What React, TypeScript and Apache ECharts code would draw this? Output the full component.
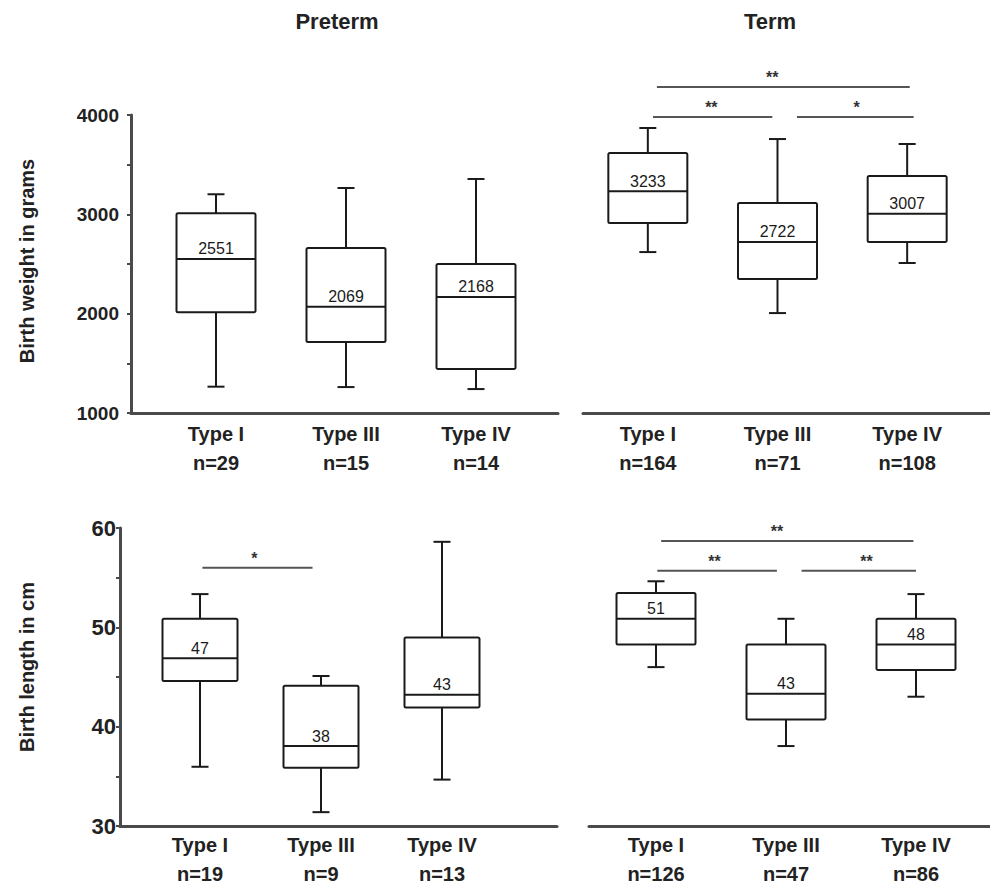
import React, { useEffect, useRef } from "react";
import * as echarts from "echarts";

const FONT = "'Liberation Sans', Arial, sans-serif";

const types = ["Type I", "Type III", "Type IV"];
const weightPretermN = [29, 15, 14];
const weightTermN = [164, 71, 108];
const lengthPretermN = [19, 9, 13];
const lengthTermN = [126, 47, 86];

// [min, q1, median, q3, max]
const weightPreterm = [
  [1265, 2015, 2551, 3010, 3202],
  [1261, 1714, 2069, 2661, 3265],
  [1241, 1442, 2168, 2500, 3356],
];
const weightTerm = [
  [2620, 2912, 3233, 3617, 3869],
  [2006, 2348, 2722, 3114, 3758],
  [2510, 2721, 3007, 3386, 3708],
];
const lengthPreterm = [
  [35.8, 44.5, 46.8, 50.8, 53.3],
  [31.2, 35.7, 37.9, 44.0, 45.0],
  [34.5, 41.8, 43.1, 48.9, 58.6],
];
const lengthTerm = [
  [45.9, 48.2, 50.8, 53.4, 54.6],
  [37.9, 40.6, 43.2, 48.2, 50.8],
  [42.9, 45.6, 48.2, 50.8, 53.3],
];

// significance bars: from/to/at are positions in category units
const sigWeightTerm = [
  { from: 0.07, to: 2.02, y: 4282, at: 0.96, stars: "**" },
  { from: 0.04, to: 0.96, y: 3980, at: 0.49, stars: "**" },
  { from: 1.15, to: 2.05, y: 3980, at: 1.61, stars: "*" },
];
const sigLengthPreterm = [{ from: 0.02, to: 0.93, y: 55.97, at: 0.45, stars: "*" }];
const sigLengthTerm = [
  { from: 0.04, to: 1.98, y: 58.69, at: 0.93, stars: "**" },
  { from: 0.01, to: 0.93, y: 55.67, at: 0.45, stars: "**" },
  { from: 1.12, to: 2.0, y: 55.67, at: 1.62, stars: "**" },
];

const cats = (ns: number[]) => types.map((t, i) => `${t}\nn=${ns[i]}`);

const AXIS_COLOR = "#4a4a4a";
const LINE_COLOR = "#1a1a1a";

function frameX(gridIndex: number) {
  return {
    type: "value",
    gridIndex,
    min: 0,
    max: 1,
    axisLine: { show: true, onZero: false, lineStyle: { color: AXIS_COLOR, width: 3 } },
    axisTick: { show: false },
    axisLabel: { show: false },
    splitLine: { show: false },
  };
}

function dataX(gridIndex: number, ns: number[]) {
  return {
    type: "category",
    gridIndex,
    data: cats(ns),
    axisLine: { show: false },
    axisTick: { show: false },
    axisLabel: {
      margin: 6,
      fontSize: 20,
      fontWeight: "bold",
      lineHeight: 29,
      color: "#222",
      fontFamily: FONT,
      interval: 0,
    },
  };
}

function hiddenY(gridIndex: number, min: number, max: number) {
  return { type: "value", gridIndex, min, max, show: false, splitLine: { show: false } };
}

function frameY(
  gridIndex: number,
  min: number,
  max: number,
  interval: number,
  name: string,
  nameGap: number,
  fontSize: number,
  margin: number,
  namePadding: number[]
) {
  return {
    type: "value",
    gridIndex,
    min,
    max,
    interval,
    axisLine: { show: true, lineStyle: { color: AXIS_COLOR, width: 3 } },
    axisTick: { show: true, length: 4, lineStyle: { color: AXIS_COLOR, width: 2 } },
    minorTick: { show: true, splitNumber: 2, length: 4, lineStyle: { color: AXIS_COLOR, width: 2 } },
    axisLabel: {
      fontSize,
      fontWeight: "bold",
      color: "#222",
      margin,
      fontFamily: FONT,
      formatter: (v: number) => String(v),
    },
    splitLine: { show: false },
    minorSplitLine: { show: false },
    name,
    nameLocation: "middle",
    nameGap,
    nameTextStyle: {
      fontSize: 20,
      fontWeight: "bold",
      color: "#222",
      fontFamily: FONT,
      padding: namePadding,
    },
  };
}

function boxSeries(xAxisIndex: number, yAxisIndex: number, rows: number[][], boxW: number) {
  return {
    type: "custom",
    xAxisIndex,
    yAxisIndex,
    data: rows.map((r, i) => [i, ...r]),
    encode: { x: 0, y: [1, 2, 3, 4, 5] },
    renderItem: (params: any, api: any) => {
      const i = api.value(0);
      const pMin = api.coord([i, api.value(1)]);
      const pQ1 = api.coord([i, api.value(2)]);
      const pMed = api.coord([i, api.value(3)]);
      const pQ3 = api.coord([i, api.value(4)]);
      const pMax = api.coord([i, api.value(5)]);
      const x = pMed[0];
      const hw = boxW / 2;
      const cap = 8.5;
      const st = { stroke: LINE_COLOR, lineWidth: 2 };
      const label = String(Math.round(api.value(3)));
      return {
        type: "group",
        children: [
          { type: "line", shape: { x1: x, y1: pMax[1], x2: x, y2: pQ3[1] }, style: st },
          { type: "line", shape: { x1: x, y1: pQ1[1], x2: x, y2: pMin[1] }, style: st },
          { type: "line", shape: { x1: x - cap, y1: pMax[1], x2: x + cap, y2: pMax[1] }, style: st },
          { type: "line", shape: { x1: x - cap, y1: pMin[1], x2: x + cap, y2: pMin[1] }, style: st },
          {
            type: "rect",
            shape: { x: x - hw, y: pQ3[1], width: boxW, height: pQ1[1] - pQ3[1], r: 1.5 },
            style: { fill: "#fff", stroke: LINE_COLOR, lineWidth: 2 },
          },
          { type: "line", shape: { x1: x - hw, y1: pMed[1], x2: x + hw, y2: pMed[1] }, style: st },
          {
            type: "text",
            style: {
              text: label,
              x,
              y: pMed[1] - 2,
              align: "center",
              verticalAlign: "bottom",
              fontSize: 16,
              fontFamily: FONT,
              fill: "#1a1a1a",
            },
          },
        ],
      };
    },
  };
}

function sigSeries(xAxisIndex: number, yAxisIndex: number, sigs: any[]) {
  return {
    type: "custom",
    xAxisIndex,
    yAxisIndex,
    data: sigs.map((s) => [0, s.y]),
    encode: { x: 0, y: 1 },
    renderItem: (params: any, api: any) => {
      const s = sigs[params.dataIndex];
      const p0 = api.coord([0, s.y]);
      const p1 = api.coord([1, s.y]);
      const step = p1[0] - p0[0];
      const xa = p0[0] + s.from * step;
      const xb = p0[0] + s.to * step;
      const xs = p0[0] + s.at * step;
      return {
        type: "group",
        children: [
          {
            type: "line",
            shape: { x1: xa, y1: p0[1], x2: xb, y2: p0[1] },
            style: { stroke: "#555", lineWidth: 2 },
          },
          {
            type: "text",
            style: {
              text: s.stars,
              x: xs,
              y: p0[1] - 1,
              align: "center",
              verticalAlign: "bottom",
              fontSize: 16,
              fontWeight: "bold",
              fontFamily: FONT,
              fill: "#333",
            },
          },
        ],
      };
    },
  };
}

export default function App() {
  const ref = useRef<HTMLDivElement>(null);
  useEffect(() => {
    document.body.style.margin = "0";
    const chart = echarts.init(ref.current!, null, { renderer: "svg" });
    const option: any = {
      animation: false,
      backgroundColor: "#ffffff",
      grid: [
        { left: 131, top: 115, width: 427, height: 298 },
        { left: 151, top: 115, width: 390, height: 298 },
        { left: 583, top: 115, width: 407, height: 298 },
        { left: 583, top: 115, width: 389, height: 298 },
        { left: 120, top: 528, width: 437, height: 298 },
        { left: 139.5, top: 528, width: 363, height: 298 },
        { left: 589, top: 528, width: 401, height: 298 },
        { left: 591, top: 528, width: 390, height: 298 },
      ],
      xAxis: [
        frameX(0),
        dataX(1, weightPretermN),
        frameX(2),
        dataX(3, weightTermN),
        frameX(4),
        dataX(5, lengthPretermN),
        frameX(6),
        dataX(7, lengthTermN),
      ],
      yAxis: [
        frameY(0, 1000, 4000, 1000, "Birth weight in grams", 94, 19, 12, [0, 0, 0, 6]),
        hiddenY(1, 1000, 4000),
        hiddenY(2, 1000, 4000),
        hiddenY(3, 1000, 4000),
        frameY(4, 30, 60, 10, "Birth length in cm", 83, 22, 4, [0, 0, 0, 20]),
        hiddenY(5, 30, 60),
        hiddenY(6, 30, 60),
        hiddenY(7, 30, 60),
      ],
      series: [
        boxSeries(1, 1, weightPreterm, 79),
        boxSeries(3, 3, weightTerm, 79),
        boxSeries(5, 5, lengthPreterm, 75),
        boxSeries(7, 7, lengthTerm, 79),
        sigSeries(3, 3, sigWeightTerm),
        sigSeries(5, 5, sigLengthPreterm),
        sigSeries(7, 7, sigLengthTerm),
      ],
      graphic: [
        {
          type: "text",
          x: 337,
          y: 21,
          style: {
            text: "Preterm",
            align: "center",
            verticalAlign: "middle",
            fontSize: 22,
            fontWeight: "bold",
            fontFamily: FONT,
            fill: "#222",
          },
        },
        {
          type: "text",
          x: 770,
          y: 21,
          style: {
            text: "Term",
            align: "center",
            verticalAlign: "middle",
            fontSize: 22,
            fontWeight: "bold",
            fontFamily: FONT,
            fill: "#222",
          },
        },
      ],
    };
    chart.setOption(option);
    return () => chart.dispose();
  }, []);
  return <div ref={ref} style={{ width: 990, height: 888 }} />;
}
